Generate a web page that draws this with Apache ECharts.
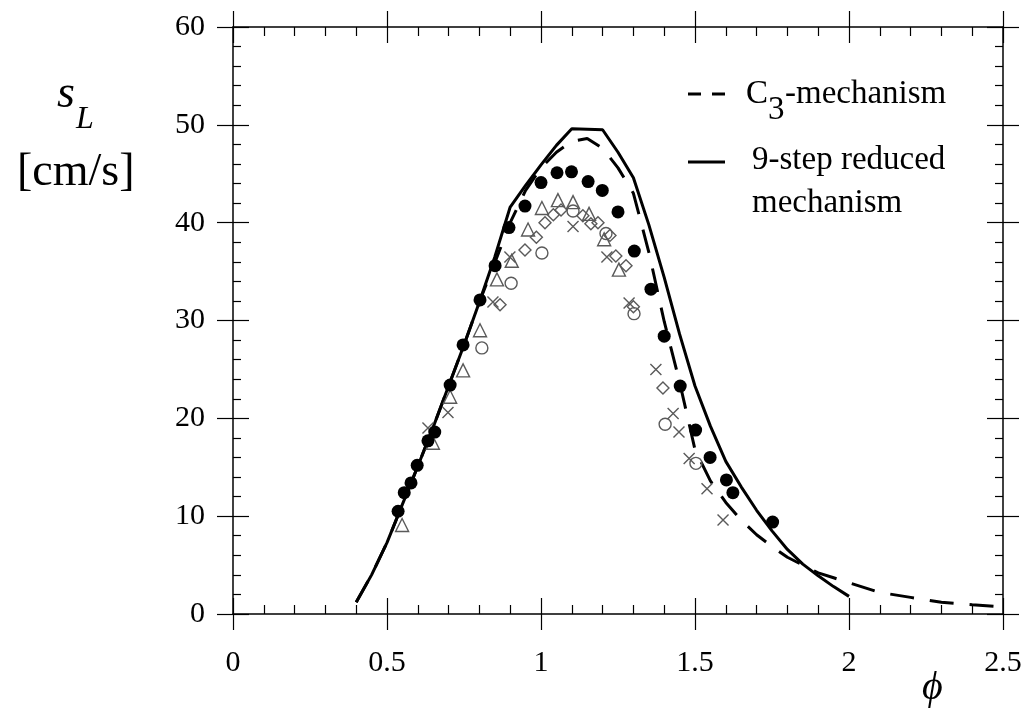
<!DOCTYPE html>
<html>
<head>
<meta charset="utf-8">
<script src="https://cdn.jsdelivr.net/npm/echarts@6/dist/echarts.min.js"></script>
<style>html,body{margin:0;padding:0;background:#fff}#c{width:1030px;height:713px}</style>
</head>
<body>
<div id="c"></div>
<script>
// ---- data ----
var xTicks = [0, 0.5, 1, 1.5, 2, 2.5];
var yTicks = [0, 10, 20, 30, 40, 50, 60];
var solidLine = [[0.40,1.2],[0.45,4.0],[0.50,7.3],[0.55,11.2],[0.60,15.1],[0.65,19.1],[0.70,23.3],[0.75,27.5],[0.80,31.9],[0.85,36.5],[0.90,41.6],[0.95,43.8],[1.00,45.9],[1.05,47.9],[1.10,49.6],[1.20,49.5],[1.25,47.2],[1.30,44.6],[1.35,39.8],[1.40,34.4],[1.45,28.6],[1.50,23.3],[1.55,19.2],[1.60,15.6],[1.65,13.0],[1.70,10.6],[1.75,8.5],[1.80,6.6],[1.85,5.1],[1.90,3.9],[1.95,2.8],[2.00,1.8]];
var dashedLine = [[0.40,1.2],[0.45,4.0],[0.50,7.3],[0.55,11.2],[0.60,15.1],[0.65,19.1],[0.70,23.3],[0.75,27.5],[0.80,31.9],[0.85,35.9],[0.90,40.0],[0.95,43.3],[1.00,45.6],[1.05,47.2],[1.10,48.3],[1.15,48.6],[1.20,47.6],[1.25,45.6],[1.30,43.0],[1.35,37.0],[1.40,29.9],[1.45,23.7],[1.50,16.8],[1.55,13.6],[1.60,11.4],[1.65,9.6],[1.70,8.1],[1.75,6.9],[1.80,5.8],[1.85,5.0],[1.90,4.2],[1.95,3.7],[2.00,3.2],[2.10,2.2],[2.20,1.7],[2.30,1.2],[2.40,0.95],[2.47,0.8]];
var filledPts = [[0.536,10.5],[0.556,12.4],[0.578,13.4],[0.598,15.2],[0.633,17.7],[0.655,18.6],[0.705,23.4],[0.747,27.5],[0.802,32.1],[0.851,35.6],[0.896,39.5],[0.948,41.7],[1.0,44.1],[1.052,45.1],[1.099,45.2],[1.153,44.2],[1.199,43.3],[1.25,41.1],[1.303,37.1],[1.357,33.2],[1.40,28.4],[1.452,23.3],[1.502,18.8],[1.549,16.0],[1.602,13.7],[1.623,12.4],[1.752,9.4]];
var trianglePts = [[0.549,9.1],[0.649,17.5],[0.705,22.2],[0.747,24.9],[0.802,29.0],[0.857,34.2],[0.905,36.1],[0.958,39.3],[1.003,41.5],[1.055,42.3],[1.104,42.1],[1.156,40.9],[1.205,38.3],[1.253,35.2]];
var diamondPts = [[0.867,31.6],[0.948,37.2],[0.985,38.5],[1.013,40.0],[1.04,40.8],[1.065,41.3],[1.136,40.7],[1.162,39.9],[1.185,40.0],[1.224,38.7],[1.243,36.6],[1.276,35.6],[1.30,31.4],[1.396,23.1]];
var circlePts = [[0.808,27.2],[0.903,33.8],[1.003,36.9],[1.104,41.2],[1.211,38.9],[1.302,30.7],[1.403,19.4],[1.503,15.4]];
var crossPts = [[0.633,19.0],[0.698,20.6],[0.844,31.9],[0.899,36.5],[1.104,39.6],[1.214,36.5],[1.286,31.8],[1.373,25.0],[1.429,20.5],[1.448,18.6],[1.481,15.9],[1.539,12.8],[1.591,9.6]];

// ---- chart ----
var FONT = 'Liberation Serif';
var chart = echarts.init(document.getElementById('c'), null, {renderer: 'canvas'});
var gridRect = {left: 233, right: 27, top: 27, bottom: 99};
var xMin = xTicks[0], xMax = xTicks[xTicks.length - 1], xInt = xTicks[1] - xTicks[0];
var yMin = yTicks[0], yMax = yTicks[yTicks.length - 1], yInt = yTicks[1] - yTicks[0];

function xAx(grid, pos, inside, labels) {
  return {
    type: 'value', gridIndex: grid, position: pos, min: xMin, max: xMax, interval: xInt,
    axisLine: {show: inside, onZero: false, lineStyle: {color: '#000', width: 1.5}},
    axisTick: {show: true, inside: inside, length: 16, lineStyle: {color: '#000', width: 1.2}},
    minorTick: {show: inside, splitNumber: 5, length: 9, lineStyle: {color: '#000', width: 1.2}},
    splitLine: {show: false},
    axisLabel: {show: labels, margin: 34, color: '#000', fontFamily: FONT, fontSize: 30,
      formatter: function (v) { return String(v); }}
  };
}
function yAx(grid, pos, inside, labels) {
  return {
    type: 'value', gridIndex: grid, position: pos, min: yMin, max: yMax, interval: yInt,
    axisLine: {show: inside, onZero: false, lineStyle: {color: '#000', width: 1.5}},
    axisTick: {show: true, inside: inside, length: 16, lineStyle: {color: '#000', width: 1.2}},
    minorTick: {show: inside, splitNumber: 5, length: 8, lineStyle: {color: '#000', width: 1.2}},
    splitLine: {show: false},
    axisLabel: {show: labels, margin: 28, color: '#000', fontFamily: FONT, fontSize: 30}
  };
}

var grayC = '#5a5a5a';
function openScatter(data, symbol, size) {
  return {
    type: 'scatter', xAxisIndex: 0, yAxisIndex: 0, data: data, symbol: symbol, symbolSize: size,
    itemStyle: {color: 'rgba(0,0,0,0)', borderColor: grayC, borderWidth: 1.4, opacity: 1},
    z: 3, silent: true
  };
}

var LF = '33px "Liberation Serif"';
chart.setOption({
  animation: false,
  backgroundColor: '#fff',
  grid: [Object.assign({}, gridRect), Object.assign({}, gridRect)],
  xAxis: [xAx(0, 'bottom', true, true), xAx(0, 'top', true, false), xAx(1, 'bottom', false, false), xAx(1, 'top', false, false)],
  yAxis: [yAx(0, 'left', true, true), yAx(0, 'right', true, false), yAx(1, 'left', false, false), yAx(1, 'right', false, false)],
  series: [
    {type: 'line', xAxisIndex: 0, yAxisIndex: 0, data: dashedLine, symbol: 'none', smooth: false,
      lineStyle: {color: '#000', width: 3, type: [24, 16]}, z: 2, silent: true},
    {type: 'line', xAxisIndex: 0, yAxisIndex: 0, data: solidLine, symbol: 'none', smooth: false,
      lineStyle: {color: '#000', width: 3}, z: 2, silent: true},
    openScatter(trianglePts, 'triangle', 13),
    openScatter(diamondPts, 'diamond', 12),
    openScatter(circlePts, 'circle', 12),
    openScatter(crossPts, 'path://M0,0L10,10M0,10L10,0', 11),
    {type: 'scatter', xAxisIndex: 0, yAxisIndex: 0, data: filledPts, symbol: 'circle', symbolSize: 13,
      itemStyle: {color: '#000', opacity: 1}, z: 4, silent: true}
  ],
  graphic: [
    {type: 'text', left: 57, top: 72, style: {text: 's', font: 'italic 46px "Liberation Serif"', fill: '#000'}},
    {type: 'text', left: 76, top: 104, style: {text: 'L', font: 'italic 32px "Liberation Serif"', fill: '#000'}},
    {type: 'text', left: 17, top: 150, style: {text: '[cm/s]', font: '46px "Liberation Serif"', fill: '#000'}},
    {type: 'text', left: 922, top: 668, style: {text: 'ϕ', font: 'italic 40px "Liberation Serif"', fill: '#000'}},
    {type: 'line', shape: {x1: 688, y1: 94, x2: 727, y2: 94}, style: {stroke: '#000', lineWidth: 3, lineDash: [13, 11]}},
    {type: 'text', left: 746, top: 78, style: {text: 'C', font: LF, fill: '#000'}},
    {type: 'text', left: 768, top: 94, style: {text: '3', font: LF, fill: '#000'}},
    {type: 'text', left: 785, top: 78, style: {text: '-mechanism', font: LF, fill: '#000'}},
    {type: 'line', shape: {x1: 688, y1: 162, x2: 725, y2: 162}, style: {stroke: '#000', lineWidth: 3}},
    {type: 'text', left: 752, top: 144, style: {text: '9-step reduced', font: LF, fill: '#000'}},
    {type: 'text', left: 752, top: 187, style: {text: 'mechanism', font: LF, fill: '#000'}}
  ]
});
</script>
</body>
</html>
